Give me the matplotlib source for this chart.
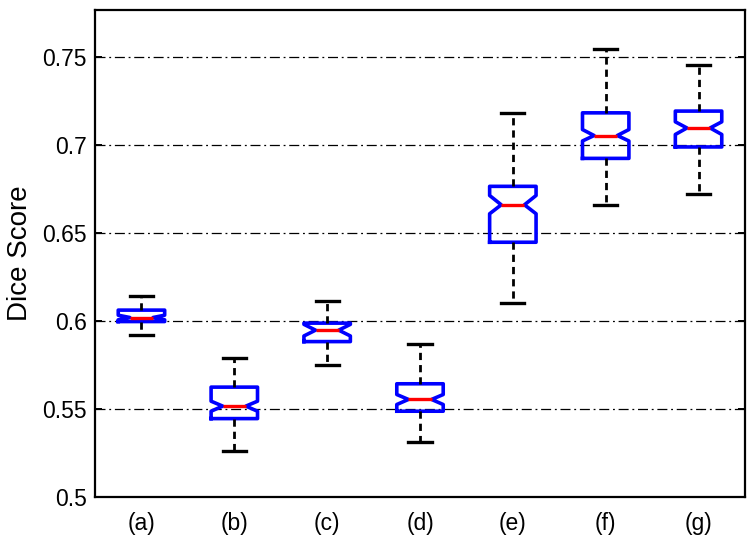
import matplotlib
matplotlib.use("Agg")
import matplotlib.pyplot as plt

# values
labels = ["(a)", "(b)", "(c)", "(d)", "(e)", "(f)", "(g)"]
whislo = [0.5922, 0.5264, 0.5751, 0.5313, 0.6106, 0.6662, 0.6721]
q1 = [0.5998, 0.5446, 0.5884, 0.5488, 0.6449, 0.6926, 0.6991]
med = [0.6021, 0.5517, 0.5949, 0.5555, 0.6662, 0.7056, 0.7099]
q3 = [0.6063, 0.5625, 0.5989, 0.5644, 0.6767, 0.7185, 0.7195]
whishi = [0.6144, 0.5792, 0.6116, 0.5872, 0.7182, 0.7547, 0.7457]
cilo = [0.6008, 0.5488, 0.5916, 0.5526, 0.6611, 0.7025, 0.7062]
cihi = [0.6034, 0.5545, 0.5982, 0.5583, 0.6715, 0.7090, 0.7134]

plt.rcParams['font.family'] = ['Liberation Sans', 'DejaVu Sans']

fig = plt.figure(figsize=(7.5, 5.4), dpi=100)
ax = fig.add_axes([0.1267, 0.0796, 0.8666, 0.9019])

stats = []
for i in range(len(labels)):
    stats.append(dict(label=labels[i], whislo=whislo[i], q1=q1[i], med=med[i],
                      q3=q3[i], whishi=whishi[i], cilo=cilo[i], cihi=cihi[i],
                      fliers=[]))

ax.bxp(stats, positions=range(1, len(labels) + 1), widths=0.5,
       shownotches=True, showfliers=False,
       boxprops=dict(color="blue", linewidth=2.6),
       whiskerprops=dict(color="black", linewidth=2.0, linestyle=(0, (2.6, 1.8))),
       capprops=dict(color="black", linewidth=2.4),
       medianprops=dict(color="red", linewidth=2.4))

ax.set_xlim(0.5, 7.5)
ax.set_ylim(0.5, 0.777)
ax.set_yticks([0.5, 0.55, 0.6, 0.65, 0.7, 0.75])
ax.set_yticklabels(["0.5", "0.55", "0.6", "0.65", "0.7", "0.75"])
ax.set_xticks(range(1, len(labels) + 1))
ax.set_xticklabels(labels)

ax.yaxis.grid(True, color="black", linewidth=0.9, linestyle=(0, (8, 3, 1.5, 3)))
ax.set_axisbelow(True)

ax.tick_params(axis="y", direction="in", length=5, width=1.4, right=True,
               labelsize=16.5, pad=6)
ax.tick_params(axis="x", length=0, labelsize=16.5, pad=11)
for sp in ax.spines.values():
    sp.set_linewidth(1.6)

ax.set_ylabel("Dice Score", fontsize=20)
ax.yaxis.set_label_coords(-0.095, 0.5)

fig.savefig("out.png", dpi=100)
